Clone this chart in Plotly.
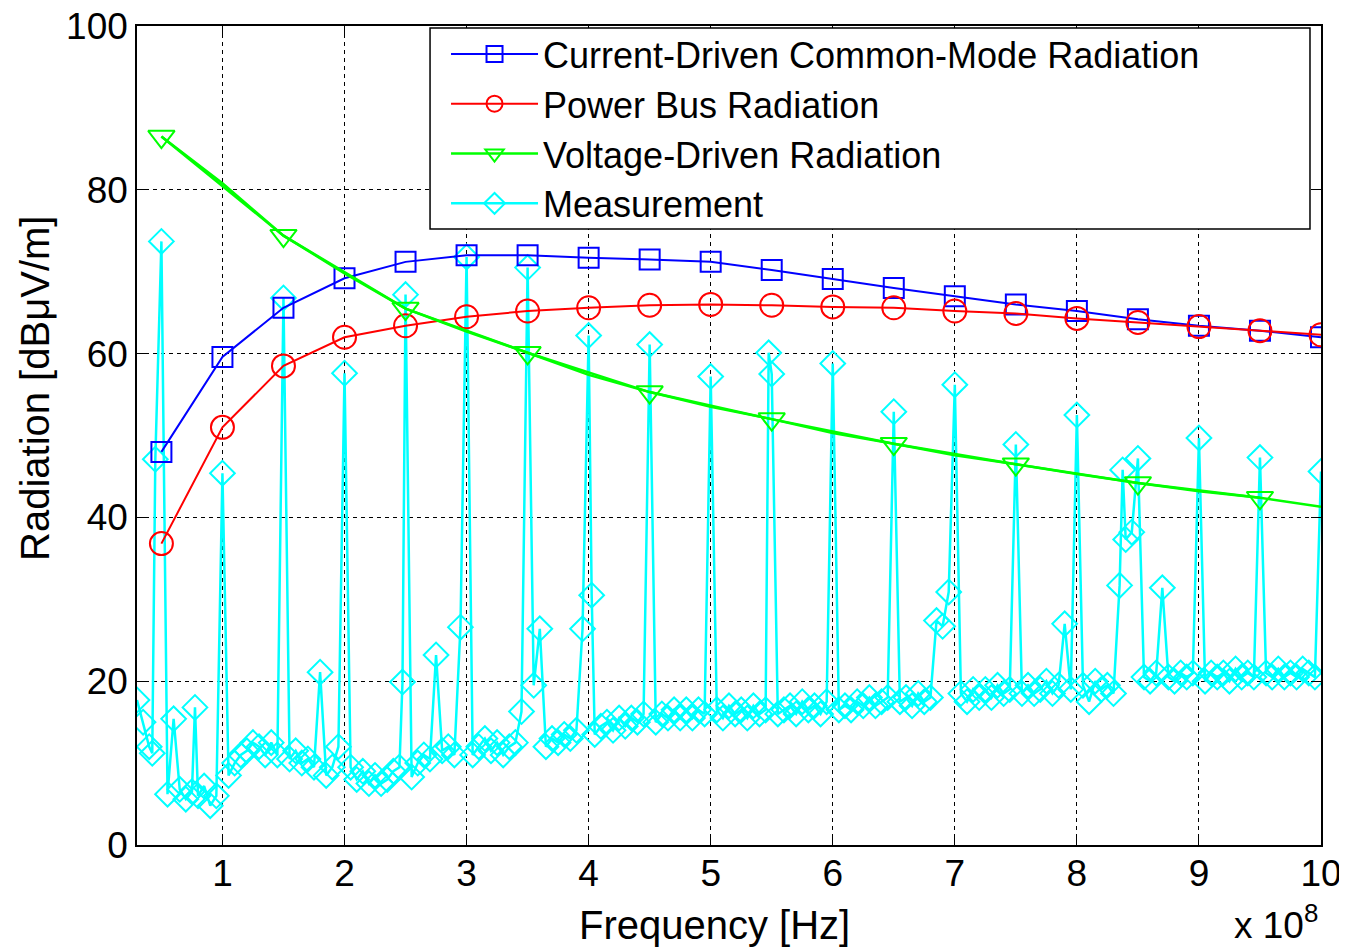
import plotly.graph_objects as go

# ---------------- data ----------------
# model curves, frequency in MHz
model_freq_mhz = [50, 100, 150, 200, 250, 300, 350, 400, 450, 500,
                  550, 600, 650, 700, 750, 800, 850, 900, 950, 1000]
current_driven = [48.0, 59.6, 65.6, 69.2, 71.2, 72.0, 72.0, 71.7, 71.5, 71.2,
                  70.2, 69.1, 68.0, 67.0, 66.0, 65.2, 64.2, 63.4, 62.8, 62.0]
power_bus = [36.8, 51.0, 58.5, 62.0, 63.4, 64.5, 65.2, 65.6, 65.9, 66.0,
             65.9, 65.7, 65.6, 65.2, 64.9, 64.3, 63.8, 63.3, 62.8, 62.3]
voltage_driven = [86.5, 80.8, 74.4, 69.8, 65.5, 62.7, 60.1, 57.4, 55.3, 53.5,
                  52.0, 50.3, 49.0, 47.6, 46.5, 45.3, 44.2, 43.2, 42.4, 41.3]

# measurement, frequency in MHz
meas_freq_mhz = [
    30, 35, 40, 42.5, 45, 50, 55, 60, 65, 70, 75, 77.5, 80, 85, 90, 95, 100, 105, 110, 115,
    120, 125, 130, 135, 140, 145, 150, 155, 160, 165, 170, 175, 180, 185, 190, 195, 200, 205, 210, 215,
    220, 225, 230, 235, 240, 245, 247.5, 250, 255, 260, 265, 270, 275, 280, 285, 290, 295, 300, 305, 310,
    315, 320, 325, 330, 335, 340, 345, 350, 355, 360, 365, 370, 375, 380, 385, 390, 395, 400, 402.5, 405,
    410, 415, 420, 425, 430, 435, 440, 445, 450, 455, 460, 465, 470, 475, 480, 485, 490, 495, 500, 505,
    510, 515, 520, 525, 530, 535, 540, 545, 547.5, 550, 555, 560, 565, 570, 575, 580, 585, 590, 595, 600,
    605, 610, 615, 620, 625, 630, 635, 640, 645, 650, 655, 660, 665, 670, 675, 680, 685, 690, 695, 700,
    705, 710, 715, 720, 725, 730, 735, 740, 745, 750, 755, 760, 765, 770, 775, 780, 785, 790, 795, 800,
    805, 810, 815, 820, 825, 830, 835, 837.5, 840, 845, 850, 855, 860, 865, 870, 875, 880, 885, 890, 895,
    900, 905, 910, 915, 920, 925, 930, 935, 940, 945, 950, 955, 960, 965, 970, 975, 980, 985, 990, 995,
    1000,
]
meas_value = [
    17.7, 15.0, 12.0, 11.2, 47.1, 73.7, 6.2, 15.4, 6.8, 5.6, 6.5, 16.8, 6.0, 7.2, 4.8, 6.0, 45.4, 8.5, 10.0, 11.0,
    11.5, 12.5, 12.0, 11.0, 12.5, 11.0, 66.8, 10.5, 11.5, 10.0, 10.5, 9.5, 21.1, 8.5, 9.5, 12.0, 57.6, 9.5, 8.0, 9.0,
    7.5, 8.5, 7.5, 8.0, 9.0, 9.5, 19.9, 67.2, 8.3, 10.0, 11.0, 10.5, 23.2, 11.5, 12.0, 11.0, 26.6, 71.8, 11.0, 12.0,
    13.0, 11.5, 12.5, 11.0, 12.0, 12.5, 16.3, 70.5, 19.5, 26.4, 12.0, 13.0, 12.5, 13.5, 13.0, 14.0, 26.4, 62.2, 30.5, 13.5,
    14.5, 15.0, 14.0, 15.5, 14.5, 15.5, 15.0, 16.0, 61.1, 15.0, 16.0, 15.5, 16.5, 15.5, 16.5, 15.5, 16.5, 16.0, 57.2, 16.5,
    15.5, 17.0, 16.0, 16.5, 15.5, 17.0, 16.0, 16.5, 60.1, 57.5, 16.0, 16.5, 17.0, 16.0, 17.5, 16.5, 17.0, 16.0, 17.5, 58.8,
    16.5, 17.0, 16.5, 17.5, 17.0, 18.0, 17.0, 17.5, 18.0, 52.9, 17.5, 18.0, 17.0, 18.5, 17.5, 18.0, 27.4, 26.7, 30.9, 56.2,
    18.5, 17.5, 19.0, 18.0, 19.0, 18.0, 19.5, 18.5, 19.0, 48.9, 18.5, 19.5, 18.5, 19.0, 20.0, 18.5, 19.5, 27.0, 19.0, 52.5,
    19.5, 17.5, 20.0, 19.0, 19.5, 18.5, 31.7, 45.8, 37.3, 38.2, 47.2, 20.5, 20.0, 21.0, 31.4, 20.5, 20.0, 21.0, 20.5, 21.0,
    49.7, 20.0, 21.0, 20.5, 21.0, 20.0, 21.5, 20.5, 21.0, 20.5, 47.3, 21.0, 20.5, 21.5, 20.5, 21.0, 20.5, 21.5, 21.0, 20.5,
    45.6,
]

x_tick_labels = ["1", "2", "3", "4", "5", "6", "7", "8", "9", "10"]
y_ticks = [0, 20, 40, 60, 80, 100]

# ---------------- figure ----------------
MHZ = 1e6
model_hz = [f * MHZ for f in model_freq_mhz]
meas_hz = [f * MHZ for f in meas_freq_mhz]
tick_hz = [float(t) * 1e8 for t in x_tick_labels]

FONT = "Liberation Sans, Arial, Helvetica, sans-serif"

fig = go.Figure()

# measurement drawn first (underneath), listed last in legend
fig.add_trace(go.Scatter(
    x=meas_hz, y=meas_value, mode="lines+markers", name="Measurement",
    line=dict(color="#00FFFF", width=2.5),
    marker=dict(symbol="diamond-open", size=19, color="#00FFFF", line=dict(width=2, color="#00FFFF")),
    legendrank=4,
))

fig.add_trace(go.Scatter(
    x=model_hz, y=current_driven, mode="lines+markers",
    name="Current-Driven Common-Mode Radiation",
    line=dict(color="#0000FF", width=2),
    marker=dict(symbol="square-open", size=20, color="#0000FF", line=dict(width=2, color="#0000FF")),
    legendrank=1,
))

fig.add_trace(go.Scatter(
    x=model_hz, y=power_bus, mode="lines+markers", name="Power Bus Radiation",
    line=dict(color="#FF0000", width=2),
    marker=dict(symbol="circle-open", size=23, color="#FF0000", line=dict(width=2, color="#FF0000")),
    legendrank=2,
))

# voltage-driven: full line, markers on every other sample
fig.add_trace(go.Scatter(
    x=model_hz, y=voltage_driven, mode="lines", showlegend=False,
    line=dict(color="#00FF00", width=2.5), legendgroup="vd", hoverinfo="skip",
))
fig.add_trace(go.Scatter(
    x=model_hz[::2], y=voltage_driven[::2], mode="lines+markers",
    name="Voltage-Driven Radiation", legendgroup="vd",
    line=dict(color="#00FF00", width=2.5),
    marker=dict(symbol="triangle-down-open", size=23, color="#00FF00", line=dict(width=2, color="#00FF00")),
    legendrank=3,
))

axis_common = dict(
    showline=True, linecolor="#000000", linewidth=1.5, mirror="ticks",
    ticks="inside", ticklen=10, tickcolor="#000000", tickwidth=1,
    showgrid=True, gridcolor="#000000", gridwidth=1, griddash="4px,4px",
    zeroline=False, ticklabeloverflow="allow",
    tickfont=dict(family=FONT, size=37, color="#000000"),
)

fig.update_xaxes(
    range=[3e7, 1e9], tickmode="array", tickvals=tick_hz, ticktext=x_tick_labels,
    ticklabelstandoff=-5, **axis_common,
)
fig.update_yaxes(
    range=[0, 100], tickmode="array", tickvals=y_ticks,
    ticklabelstandoff=0, **axis_common,
)

# the page body adds an 8px offset, so the figure is sized to land the
# plot area at the same window position as the reference
fig.update_layout(
    width=1339, height=942,
    margin=dict(l=129, r=26, t=18, b=105, autoexpand=False),
    paper_bgcolor="#FFFFFF", plot_bgcolor="#FFFFFF",
    font=dict(family=FONT, size=37, color="#000000"),
    showlegend=True,
    legend=dict(
        x=0.261, y=1.0024, xanchor="left", yanchor="top",
        bgcolor="rgba(0,0,0,0)", borderwidth=0,
        font=dict(family=FONT, size=36, color="#000000"),
        itemwidth=87, traceorder="normal",
    ),
    shapes=[
        # legend frame
        dict(type="rect", xref="paper", yref="paper",
             x0=0.2475, x1=0.9907, y0=0.7521, y1=0.9976,
             fillcolor="#FFFFFF", line=dict(color="#000000", width=1.5), layer="above"),
    ],
    annotations=[
        dict(text="Frequency [Hz]", xref="paper", yref="paper", x=0.488, y=-0.098,
             xanchor="center", yanchor="middle", showarrow=False,
             font=dict(family=FONT, size=40, color="#000000")),
        dict(text="x 10<sup>8</sup>", xref="paper", yref="paper", x=0.999, y=-0.095,
             xanchor="right", yanchor="middle", showarrow=False,
             font=dict(family=FONT, size=37, color="#000000")),
        dict(text="Radiation [dBμV/m]", xref="paper", yref="paper", x=-0.086, y=0.557,
             xanchor="center", yanchor="middle", textangle=-90, showarrow=False,
             font=dict(family=FONT, size=40, color="#000000")),
    ],
)

fig.write_html("out.html")
